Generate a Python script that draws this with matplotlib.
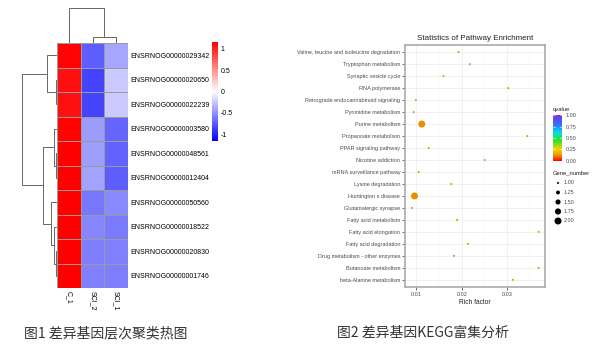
import numpy as np
import matplotlib
matplotlib.use("Agg")
import matplotlib.pyplot as plt
from matplotlib.colors import LinearSegmentedColormap

plt.rcParams['font.family'] = ['Liberation Sans', 'DejaVu Sans']

# ---------------- heatmap data ----------------
genes = ["ENSRNOG00000029342", "ENSRNOG00000020650", "ENSRNOG00000022239",
         "ENSRNOG00000003580", "ENSRNOG00000048561", "ENSRNOG00000012404",
         "ENSRNOG00000050560", "ENSRNOG00000018522", "ENSRNOG00000020830",
         "ENSRNOG00000001746"]
samples = ["C_1", "SCI_2", "SCI_1"]
c1_vals = [1.13, 1.08, 1.08, 1.14, 1.15, 1.15, 1.15, 1.15, 1.15, 1.15]
sci2_vals = [-0.73, -0.84, -0.84, -0.45, -0.44, -0.42, -0.62, -0.55, -0.58, -0.57]
sci1_vals = [-0.40, -0.24, -0.24, -0.69, -0.71, -0.73, -0.53, -0.60, -0.57, -0.58]

# row dendrogram merges: (left, right, height); ints = leaves, 'mK' = earlier merge
row_merges = [(1, 2, 1.3), (0, 'm0', 10.3), (4, 5, 1.0), (3, 'm2', 2.7),
              (8, 9, 1.3), (7, 'm4', 2.7), (6, 'm5', 6.0), ('m3', 'm6', 14.3),
              ('m1', 'm7', 34.7)]
col_merges = [(1, 2, 6.3), (0, 'm0', 34.7)]

# ---------------- KEGG data ----------------
pathways = ["Valine, leucine and isoleucine degradation", "Tryptophan metabolism",
            "Synaptic vesicle cycle", "RNA polymerase",
            "Retrograde endocannabinoid signaling", "Pyrimidine metabolism",
            "Purine metabolism", "Propanoate metabolism", "PPAR signaling pathway",
            "Nicotine addiction", "mRNA surveillance pathway", "Lysine degradation",
            "Huntington s disease", "Glutamatergic synapse", "Fatty acid metabolism",
            "Fatty acid elongation", "Fatty acid degradation",
            "Drug metabolism - other enzymes", "Butanoate metabolism",
            "beta-Alanine metabolism"]
rich_factor = [0.0193, 0.0218, 0.0160, 0.0303, 0.0099, 0.0094, 0.0112, 0.0345,
               0.0127, 0.0251, 0.0105, 0.0177, 0.0096, 0.0090, 0.0190, 0.0370,
               0.0214, 0.0183, 0.0370, 0.0313]
gene_number = [1, 1, 1, 1, 1, 1, 2, 1, 1, 1, 1, 1, 2, 1, 1, 1, 1, 1, 1, 1]
qvalue = [0.12] * 20
x_ticks = [0.01, 0.02, 0.03]
q_ticks = [0.00, 0.25, 0.50, 0.75, 1.00]
size_ticks = [1.00, 1.25, 1.50, 1.75, 2.00]

W, H = 600, 354
fig = plt.figure(figsize=(W / 100, H / 100), dpi=100)


def px_axes(x0, y0, x1, y1):
    return fig.add_axes([x0 / W, 1 - y1 / H, (x1 - x0) / W, (y1 - y0) / H])


# ---------------- heatmap ----------------
data = np.array([c1_vals, sci2_vals, sci1_vals]).T
hm_cmap = LinearSegmentedColormap.from_list("bwr2", ["#0000FF", "#FFFFFF", "#FF0000"])
vlim = 1.155
axh = px_axes(57, 43, 128, 288)
mesh = axh.pcolormesh(np.arange(4), np.arange(11), data, cmap=hm_cmap,
                      vmin=-vlim, vmax=vlim, edgecolors='#9a9a9a', linewidth=0.5)
axh.set_xlim(0, 3)
axh.set_ylim(10, 0)
for s in axh.spines.values():
    s.set_visible(False)
axh.yaxis.tick_right()
axh.set_yticks(np.arange(10) + 0.5)
axh.set_yticklabels(genes, fontsize=5)
axh.set_xticks(np.arange(3) + 0.5)
axh.set_xticklabels(samples, fontsize=5, rotation=270, va='top', ha='center')
axh.tick_params(length=0, pad=2)


def draw_dendro(ax, merges, orient):
    pos = {}
    hts = {}
    for k, (a, b, h) in enumerate(merges):
        pts = []
        for c in (a, b):
            if isinstance(c, int):
                pts.append((c + 0.5, 0.0))
            else:
                pts.append((pos[c], hts[c]))
        (pa, ha), (pb, hb) = pts
        xs = [pa, pa, pb, pb]
        ys = [ha, h, h, hb]
        if orient == 'left':
            ax.plot(ys, xs, color='#666666', lw=0.7, solid_capstyle='butt')
        else:
            ax.plot(xs, ys, color='#666666', lw=0.7, solid_capstyle='butt')
        pos['m%d' % k] = (pa + pb) / 2
        hts['m%d' % k] = h
    ax.axis('off')


axr = px_axes(22, 43, 57, 288)
draw_dendro(axr, row_merges, 'left')
axr.set_ylim(10, 0)
axr.set_xlim(row_merges[-1][2], 0)

axc = px_axes(57, 8, 128, 43)
draw_dendro(axc, col_merges, 'top')
axc.set_xlim(0, 3)
axc.set_ylim(0, col_merges[-1][2])

cax = px_axes(212, 42, 218, 141)
cb = fig.colorbar(mesh, cax=cax, ticks=[-1, -0.5, 0, 0.5, 1])
cb.outline.set_visible(False)
cb.ax.set_yticklabels(['-1', '-0.5', '0', '0.5', '1'])
cb.ax.tick_params(length=0, labelsize=5, pad=2)

# ---------------- KEGG scatter ----------------
q_cmap = LinearSegmentedColormap.from_list(
    "qc", [(0, '#FF0000'), (0.12, '#E89200'), (0.25, '#FFD000'), (0.45, '#30E030'),
           (0.62, '#00E0E0'), (0.8, '#3070FF'), (1.0, '#8A2BE2')])


def size_to_s(v):
    return 0.5184 * (4 + 45 * (np.asarray(v, dtype=float) - 1))


ax2 = px_axes(405, 45, 545, 287)
ypos = np.arange(len(pathways))[::-1]
ax2.scatter(rich_factor, ypos, s=size_to_s(gene_number), c=qvalue, cmap=q_cmap,
            vmin=0, vmax=1, edgecolors='none', zorder=3)
ax2.set_xlim(0.0075, 0.0384)
ax2.set_ylim(-0.6, len(pathways) - 0.4)
ax2.set_yticks(ypos)
ax2.set_yticklabels(pathways, fontsize=4, color='#4D4D4D')
ax2.set_xticks(x_ticks)
ax2.set_xticklabels(['%.2f' % t for t in x_ticks], fontsize=4, color='#4D4D4D')
ax2.set_xticks([0.015, 0.025, 0.035], minor=True)
ax2.tick_params(which='major', length=2, width=0.5, color='#333333', pad=1.5)
ax2.tick_params(which='minor', length=0)
ax2.grid(True, which='major', color='#EBEBEB', lw=0.5)
ax2.grid(True, which='minor', axis='x', color='#F3F3F3', lw=0.3)
ax2.set_axisbelow(True)
for s in ax2.spines.values():
    s.set_color('#AAAAAA')
    s.set_linewidth(1.2)
ax2.set_title('Statistics of Pathway Enrichment', fontsize=5.8, pad=3.5, color='#222222')
ax2.set_xlabel('Rich factor', fontsize=4.8, labelpad=1.5, color='#222222')

# qvalue legend
fig.text(553 / W, 1 - 109 / H, 'qvalue', fontsize=4.2, va='center', ha='left', color='#222222')
qax = px_axes(553, 114, 562, 162)
grad = np.linspace(0, 1, 256).reshape(-1, 1)
qax.imshow(grad, aspect='auto', cmap=q_cmap, origin='lower', extent=[0, 1, 0, 1])
qax.set_xticks([])
qax.yaxis.tick_right()
qax.set_ylim(-0.03, 1.03)
qax.set_yticks(q_ticks)
qax.set_yticklabels(['%.2f' % t for t in q_ticks], fontsize=4, color='#4D4D4D')
qax.tick_params(axis='y', length=0, pad=2.5)
for t in q_ticks:
    qax.plot([0, 0.2], [t, t], color='white', lw=0.4)
    qax.plot([0.8, 1], [t, t], color='white', lw=0.4)
qax.set_xlim(0, 1)
for s in qax.spines.values():
    s.set_visible(False)

# size legend
fig.text(553 / W, 1 - 173 / H, 'Gene_number', fontsize=4.2, va='center', ha='left', color='#222222')
lax = px_axes(548, 178, 600, 226)
lax.set_xlim(548, 600)
lax.set_ylim(226, 178)
lax.axis('off')
for k, v in enumerate(size_ticks):
    yy = 183 + 9.5 * k
    lax.scatter([558], [yy], s=size_to_s(v), color='black', edgecolors='none')
    lax.text(564, yy, '%.2f' % v, fontsize=4, va='center', ha='left', color='#4D4D4D')

# captions
fig.text(24 / W, 1 - 333 / H, '图1 差异基因层次聚类热图', fontsize=10,
         family=['Noto Sans CJK SC', 'DejaVu Sans'], color='#333333', va='center', ha='left')
fig.text(337 / W, 1 - 333 / H, '图2 差异基因KEGG富集分析', fontsize=10,
         family=['Noto Sans CJK SC', 'DejaVu Sans'], color='#333333', va='center', ha='left')

fig.savefig('out.png', dpi=100)
